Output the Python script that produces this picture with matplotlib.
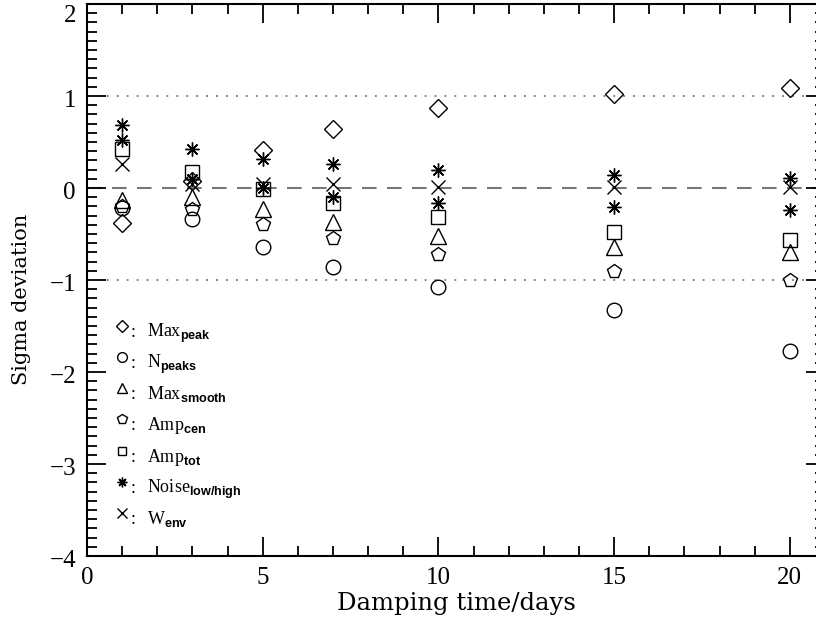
import numpy as np
import matplotlib
matplotlib.use("Agg")
import matplotlib.pyplot as plt
import matplotlib.transforms as mtransforms
from matplotlib.ticker import MultipleLocator

plt.rcParams["font.family"] = ["Liberation Serif", "DejaVu Serif"]
plt.rcParams["mathtext.fontset"] = "custom"
plt.rcParams["mathtext.rm"] = "Liberation Serif"
plt.rcParams["mathtext.sf"] = "Liberation Sans:bold"

# damping times (days)
damping = [1, 3, 5, 7, 10, 15, 20]

# sigma deviations
max_peak = [-0.38, 0.08, 0.41, 0.64, 0.87, 1.02, 1.09]
n_peaks = [-0.22, -0.34, -0.64, -0.86, -1.08, -1.33, -1.77]
max_smooth = [-0.13, -0.10, -0.23, -0.37, -0.52, -0.64, -0.70]
amp_cen = [-0.20, -0.23, -0.39, -0.54, -0.72, -0.90, -1.00]
amp_tot = [0.42, 0.17, -0.01, -0.16, -0.31, -0.48, -0.57]
noise_low = [0.52, 0.10, 0.00, -0.10, -0.16, -0.21, -0.24]
noise_high = [0.68, 0.42, 0.32, 0.26, 0.20, 0.14, 0.11]
w_env = [0.26, 0.04, 0.04, 0.04, 0.01, 0.01, 0.01]

labels = [r"Max$_{\mathsf{peak}}$", r"N$_{\mathsf{peaks}}$",
          r"Max$_{\mathsf{smooth}}$", r"Amp$_{\mathsf{cen}}$",
          r"Amp$_{\mathsf{tot}}$", r"Noise$_{\mathsf{low/high}}$",
          r"W$_{\mathsf{env}}$"]

asterisk = (8, 2, 0)

fig = plt.figure(figsize=(8.16, 6.26), dpi=100)
ax = fig.add_axes([87 / 816, 70 / 626, 738 / 816, 552 / 626])

ax.axhline(0, color="#777777", lw=1.5, ls=(0, (7, 5)), zorder=1)
ax.axhline(1, color="#777777", lw=1.3, ls=(0, (1, 4.5)), zorder=1)
ax.axhline(-1, color="#777777", lw=1.3, ls=(0, (1, 4.5)), zorder=1)

kw = dict(ls="none", mfc="none", mec="black", mew=1.0, color="black", zorder=3)
ax.plot(damping, max_peak, marker="D", ms=9, **kw)
ax.plot(damping, n_peaks, marker="o", ms=10.5, **kw)
ax.plot(damping, max_smooth, marker="^", ms=11, **kw)
ax.plot(damping, amp_cen, marker="p", ms=10, **kw)
ax.plot(damping, amp_tot, marker="s", ms=9.5, **kw)
ax.plot(damping, noise_low, marker=asterisk, ms=10, **kw)
ax.plot(damping, noise_high, marker=asterisk, ms=10, **kw)
ax.plot(damping, w_env, marker="x", ms=10, **kw)

# in-plot key (text baselines in data units)
key_markers = [("D", 6), ("o", 7), ("^", 7), ("p", 7), ("s", 6), (asterisk, 7), ("x", 7)]
key_y = [-1.62, -1.957, -2.293, -2.63, -2.978, -3.315, -3.652]
for (m, s), y, lab in zip(key_markers, key_y, labels):
    ax.plot([1.0], [y + 0.12], marker=m, ms=s, **kw)
    ax.text(1.25, y, ":", fontsize=13, va="baseline", ha="left")
    ax.text(1.71, y, lab, fontsize=13, va="baseline", ha="left")

ax.set_xlim(0, 21)
ax.set_ylim(-4, 2)
ax.xaxis.set_major_locator(MultipleLocator(5))
ax.xaxis.set_minor_locator(MultipleLocator(1))
ax.yaxis.set_major_locator(MultipleLocator(1))
ax.yaxis.set_minor_locator(MultipleLocator(0.1))
ax.tick_params(which="both", direction="in", top=True, right=True, width=1.3,
               labelsize=18, pad=8)
ax.tick_params(which="major", length=14)
ax.tick_params(which="minor", length=7)
for sp in ax.spines.values():
    sp.set_linewidth(1.5)

# nudge y tick labels down a little, the top one more so it stays inside
fig.canvas.draw()
for tick in ax.yaxis.get_major_ticks():
    dy = -7 / 72 if abs(tick.get_loc() - 2) < 1e-6 else -2 / 72
    off = mtransforms.ScaledTranslation(0, dy, fig.dpi_scale_trans)
    tick.label1.set_transform(tick.label1.get_transform() + off)

ax.set_xlabel("Damping time/days", fontsize=17.5, family="DejaVu Serif", labelpad=2)
ax.set_ylabel("Sigma deviation", fontsize=15, family="DejaVu Serif")
ax.yaxis.set_label_coords(-0.076, 0.464)

fig.savefig("out.png", dpi=100)
